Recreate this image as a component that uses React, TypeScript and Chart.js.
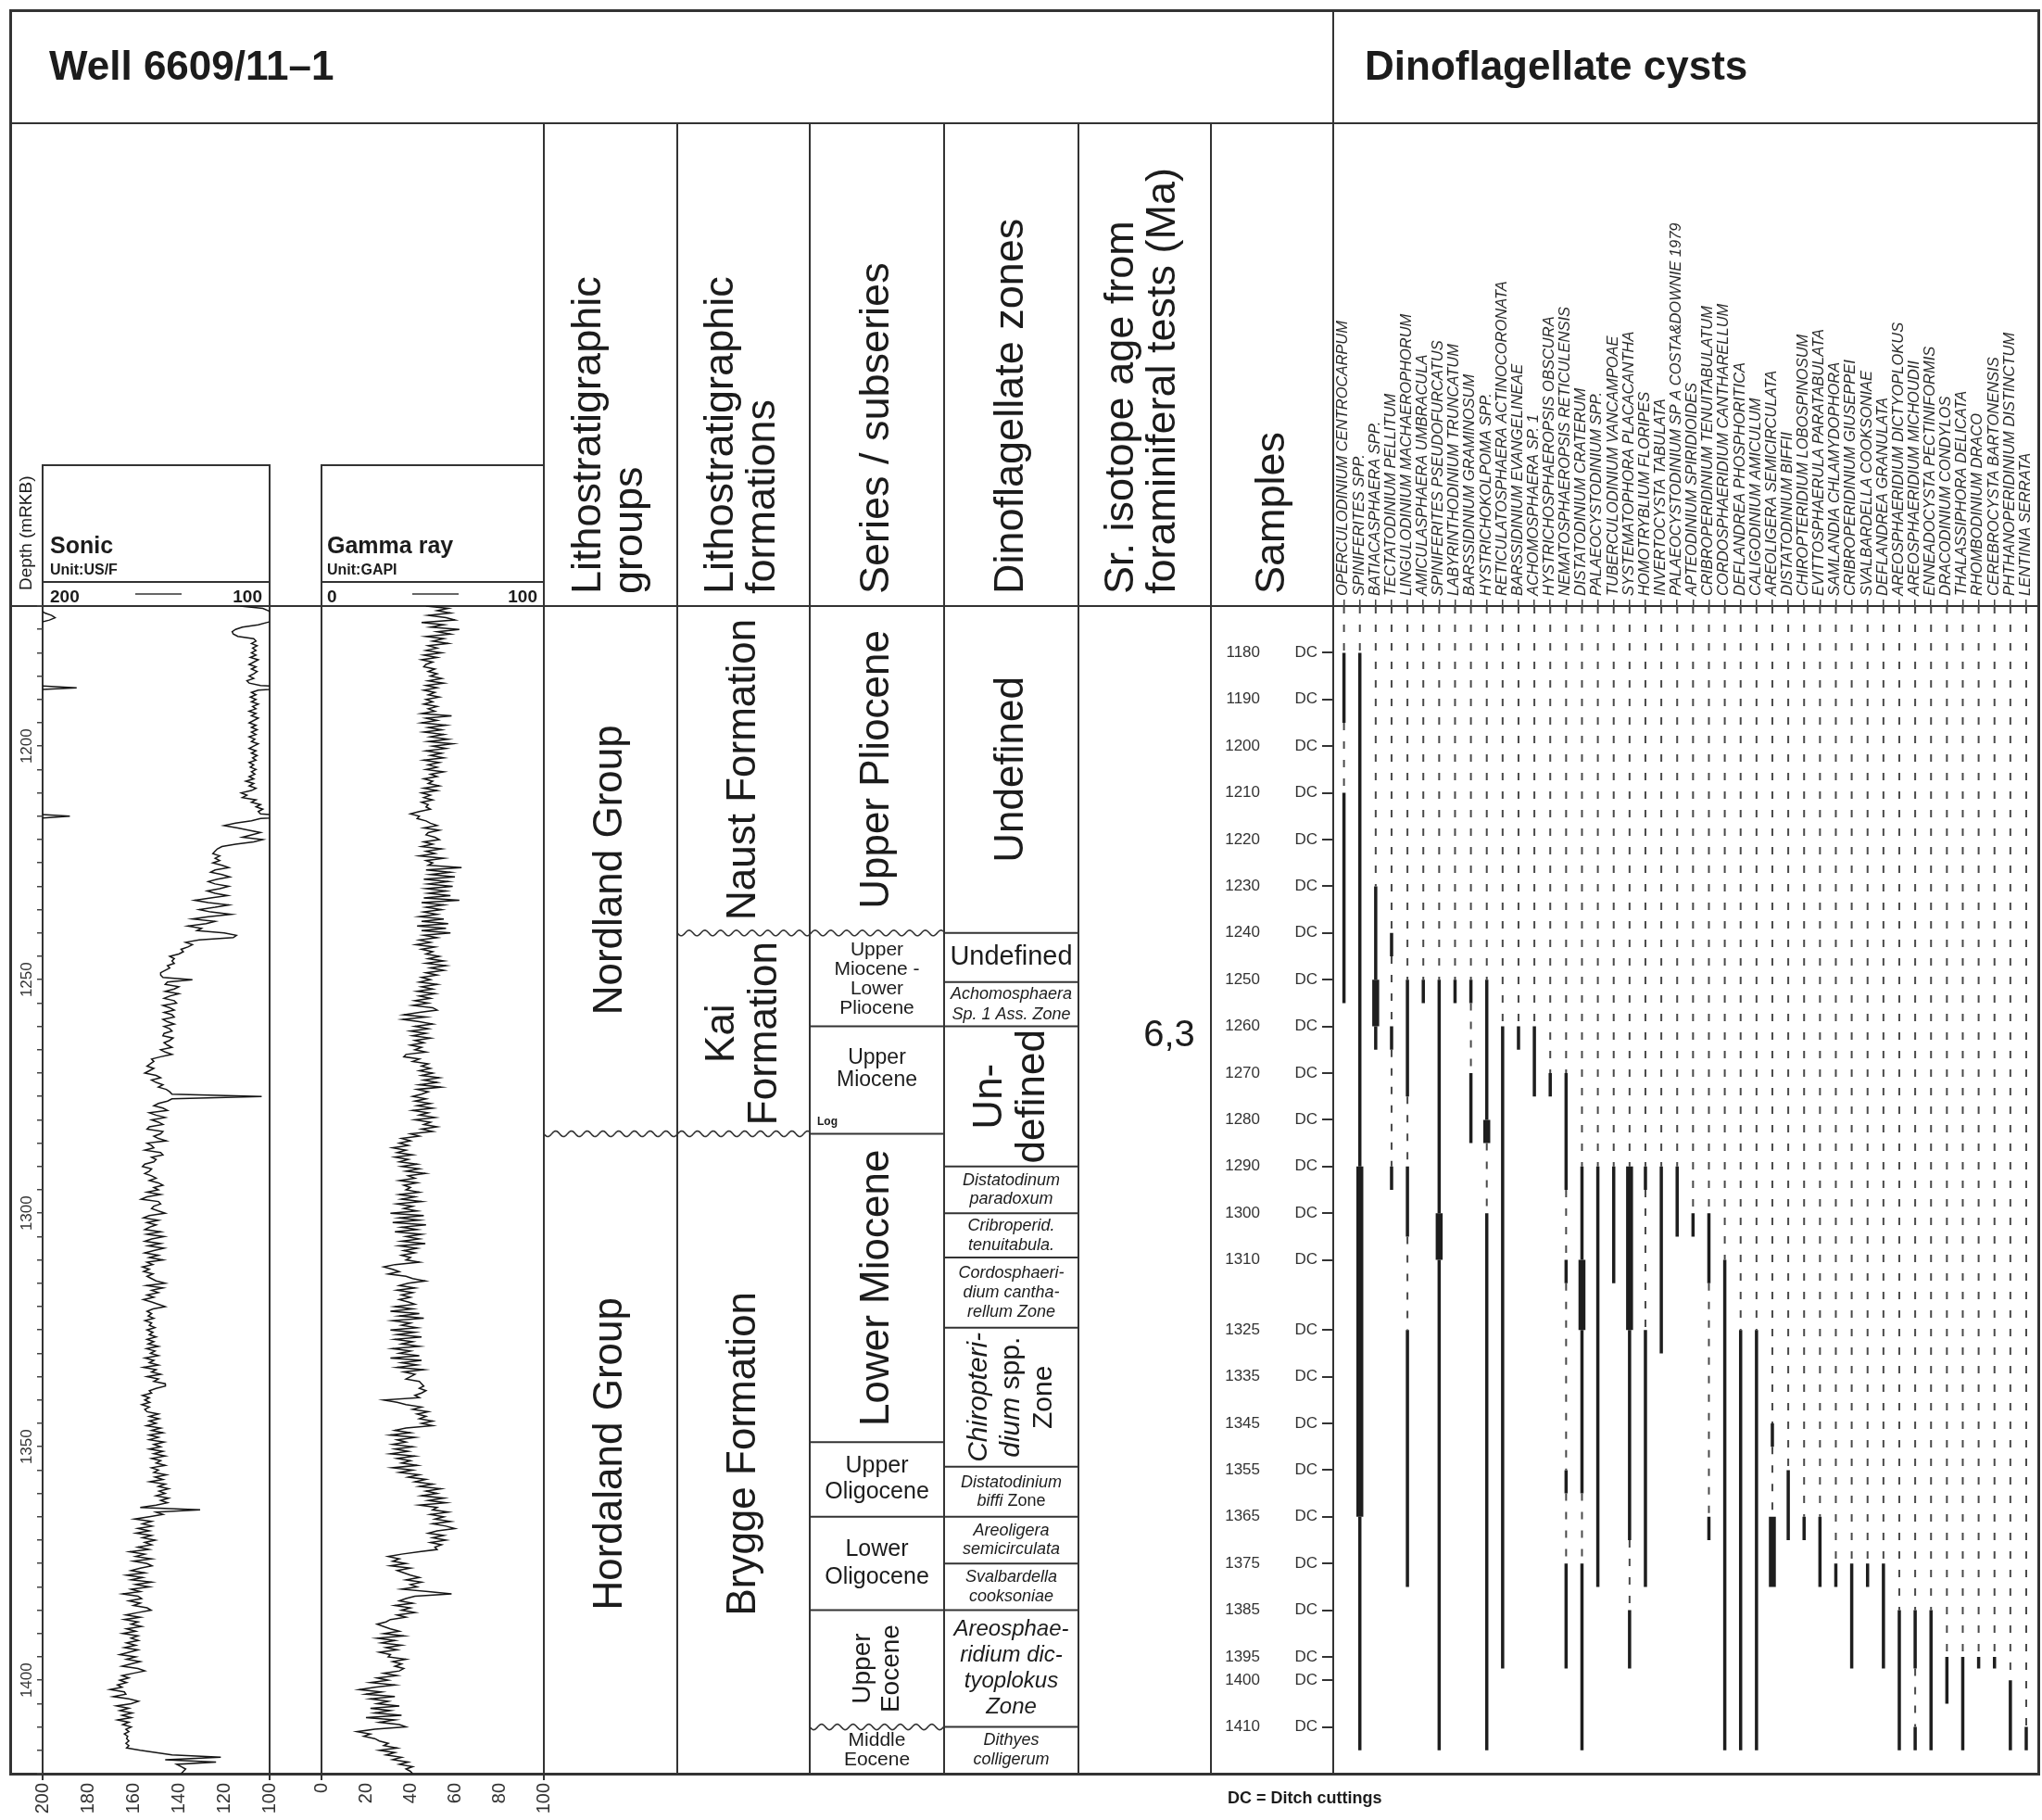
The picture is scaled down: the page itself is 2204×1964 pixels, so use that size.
import React, { useEffect, useRef } from 'react';
import { Chart, registerables } from 'chart.js';

Chart.register(...registerables);

const FONT = "'Liberation Sans', Arial, Helvetica, sans-serif";
Chart.defaults.font.family = FONT;
Chart.defaults.color = '#333';

// ---------------- DATA ----------------
const depthTop = 1170;
const depthBase = 1420;
const logStep = 0.5; // log samples every 0.5 m from depthTop

// Sonic (US/F), one row = 5 m
const sonicValues = [
  113, 103, 100.5, 99, 96, 94.5, 97, 101, 105, 112,
  115, 116.5, 116, 114, 107, 106, 108, 105.5, 107.5, 106,
  108, 106, 108.5, 105, 107, 109, 106, 108, 105.5, 107,
  109, 107, 110, 109, 104, 85, 105, 108, 106, 108.5,
  106, 108, 105, 107.5, 106, 109, 106, 108, 105, 107,
  109, 106, 108, 105.5, 108, 106, 109, 106.5, 108, 105,
  107, 109, 106, 108, 105.5, 107.5, 106, 109, 107, 108.5,
  106, 108, 106.5, 109, 107, 110.5, 107, 109, 106, 108,
  112.5, 110, 112, 106, 108, 104, 106, 103, 105, 104,
  88, 104, 108, 115, 120, 114, 109, 104, 108, 112,
  103, 107, 115, 121, 123, 124, 125, 122, 124, 122,
  125, 121, 118, 124, 126, 121, 117.5, 123, 127, 124,
  118, 122, 127.5, 124, 118.5, 126, 133, 127, 118, 124,
  131, 126, 117, 127, 134, 124, 128, 136, 130, 132,
  120, 114.6, 116, 131, 137, 134, 136, 139, 138, 140,
  144, 142, 143, 142, 145, 144, 146, 148, 148, 147,
  134, 145, 146, 140, 142, 146, 140, 144, 146.5, 142,
  141, 147, 144, 142, 146.5, 143, 142, 147, 145, 142,
  146.5, 144, 143, 146.5, 147, 142.5, 144, 146.5, 145, 143,
  148, 146, 143, 148, 152, 151, 152.5, 154, 151, 153,
  155, 150, 148, 152, 150, 147, 149, 145.5, 144, 143,
  103.5, 143, 145, 149, 151, 147, 145, 153, 150, 146,
  152, 149, 147, 153, 154, 147, 148, 151, 149, 145.5,
  154, 152, 151, 155, 148, 147, 152, 150, 151, 155,
  156, 152, 153, 155, 152, 150, 153, 149, 147, 151,
  149, 154, 148, 154, 156.6, 149, 148, 151, 152, 149,
  146, 153, 155.6, 149, 154, 150, 153, 155, 148, 154,
  146.5, 152, 155, 148, 153.5, 146.5, 151, 155, 149, 153,
  147, 154, 151.5, 156, 153, 155.5, 151.4, 154, 152, 150,
  146, 154.2, 147, 152, 149, 154, 151, 155.6, 152, 149,
  146, 151.4, 154, 152, 153.5, 151, 154.9, 152, 153, 150.5,
  154, 151.4, 153, 150, 154, 151, 153.5, 149, 154.2, 150.5,
  152.5, 149, 154.9, 151, 153, 149, 155.6, 150, 152, 148,
  154, 149, 151, 146, 145.9, 150, 153, 152, 156, 153,
  155, 152.8, 156.3, 153, 155, 154, 149, 153, 148.7, 153,
  150, 154.2, 148, 152, 147, 153, 149, 153, 146.5, 151,
  148, 153, 147, 151, 146, 152, 148, 150, 146, 152,
  149, 151, 145.5, 150.5, 147, 152.8, 146, 149, 144.5, 148.7,
  146, 150, 144.5, 148, 145, 150, 157, 130.6, 150, 147,
  153, 159.5, 152, 156, 151.8, 158, 153, 158.8, 152, 156,
  150.4, 155, 152, 158, 153.2, 161.6, 155, 159, 152, 160,
  154, 151.8, 157, 161, 155, 163, 156, 161, 152, 159,
  153, 161, 157, 164.7, 158, 156.4, 162, 157, 160, 154,
  152.2, 158, 163.3, 157, 164, 158, 161, 156.4, 163, 159,
  164.7, 158, 161, 157.8, 163, 159, 164, 158, 162, 166,
  159, 163, 157, 161, 165, 158, 155, 160, 165, 162,
  166, 163, 167, 165, 170.3, 164, 163.3, 168.9, 162, 157.8,
  161, 167.5, 162, 166, 160.6, 165, 161, 167, 162, 164.7,
  161, 163.3, 162, 164, 162.5, 163, 162, 163.3, 162, 163,
  157, 150, 143, 121.5, 146, 123.6, 141, 139, 137, 138,
  139,
];

// Gamma ray (GAPI), one row = 5 m
const gammaValues = [
  47, 57, 52, 58, 48, 56, 60, 45, 55, 49,
  62, 52, 58, 47, 55, 50, 57, 48, 52, 47,
  54, 46, 52, 45, 50, 47, 46, 51, 48, 52,
  49, 54, 48, 55, 47, 52, 46, 51, 48, 53,
  47, 50, 46, 52, 48, 51, 45, 58.5, 47, 52,
  45, 56, 48, 54, 46, 55, 49, 57, 48, 59,
  50, 56, 47, 54, 49, 55, 46, 53, 48, 52,
  47, 55, 49, 52, 46, 50, 48, 53, 46, 52,
  45, 49, 46, 50, 45, 48, 47, 49, 44, 40,
  44, 43, 47, 49, 52, 46, 53, 48, 47, 51,
  53, 46, 50, 45, 54, 47, 51, 44, 55, 47,
  50, 48, 63, 47, 58, 49, 60, 46, 57, 48,
  59, 47, 56, 48, 58, 46, 62, 45, 55, 47,
  54, 46, 52, 44, 55, 45, 57, 43, 56, 45,
  58, 46, 52, 44, 49, 42.5, 51, 45, 50, 47,
  53, 48, 55, 47, 56, 49, 55, 47, 52, 45,
  49, 44, 52, 45, 50, 43, 51, 44, 49, 42,
  48, 41, 50, 52, 44, 37, 47, 36.5, 44, 50,
  42, 48, 40, 47, 41, 49, 42, 46, 40, 45,
  42, 47, 38, 37, 44, 41, 48, 45, 49, 44,
  50, 45, 53, 46, 52, 44, 53.7, 43, 48, 45,
  41, 47, 42, 49, 43, 50, 41, 48, 44, 51,
  42, 49, 46, 52, 45, 50, 40, 44, 36, 40,
  35, 39, 32, 38, 34, 41, 33, 39, 35, 43,
  36, 44, 38, 46.7, 39, 42, 35, 43, 37, 40,
  38, 44, 35, 42, 36, 45, 34, 41, 37, 43,
  31, 46, 35, 44, 32, 47, 36, 43, 33, 45,
  38, 44, 36, 46.7, 35, 43, 37, 42, 36, 40,
  38, 44, 33, 28, 32, 35, 30, 38, 41, 46.7,
  39, 35, 42, 34, 41, 36, 40, 35, 39, 42,
  33, 41, 31, 44, 35, 46, 32, 40, 36, 43,
  31, 42, 34, 45, 33, 41, 36, 44, 32, 40,
  35, 44, 31, 45, 36, 43, 34, 46, 37, 42,
  40, 38, 44, 45, 46, 44, 47, 45, 42, 44,
  28, 34, 38, 45, 41, 48, 43, 47, 44, 50,
  45, 50, 38, 33, 40, 31, 42, 34, 38, 32,
  41, 33, 39, 31, 42, 34, 40, 36, 43, 32,
  41, 35, 44, 39, 47, 42, 50, 44, 53.7, 47,
  52, 45, 55, 48, 56, 44, 52, 50, 57, 49,
  55, 51, 58, 50, 56, 60, 52, 48, 55, 50,
  56, 49, 54, 51, 52, 44, 36, 30, 35, 32,
  38, 31, 40, 34, 37, 40, 44, 38, 45, 40,
  43, 36, 48, 58.5, 42, 38, 35, 41, 33, 40,
  36, 42, 34, 38, 31, 29, 25, 28, 31, 35,
  28, 37, 25, 33, 27, 36, 29, 34, 26, 31,
  30, 38, 32, 36, 33, 37, 35, 28, 34, 25,
  30, 22, 33, 24, 17, 27, 20, 33, 22, 30,
  25, 35, 22, 31, 24, 36, 20, 33, 26, 35,
  38, 24, 16, 22, 19, 24, 26, 30, 28, 34,
  26, 33, 29, 36, 32, 39, 35, 41, 38, 40,
  41,
];

const sonicTickValues = [200, 180, 160, 140, 120, 100];
const gammaTickValues = [0, 20, 40, 60, 80, 100];
const depthLabelStep = 50;

const sampleDepths = [1180, 1190, 1200, 1210, 1220, 1230, 1240, 1250, 1260, 1270, 1280, 1290, 1300, 1310, 1325, 1335, 1345, 1355, 1365, 1375, 1385, 1395, 1400, 1410];

const speciesNames = [
  'OPERCULODINIUM CENTROCARPUM', 'SPINIFERITES SPP.', 'BATIACASPHAERA SPP.', 'TECTATODINIUM PELLITUM',
  'LINGULODINIUM MACHAEROPHORUM', 'AMICULASPHAERA UMBRACULA', 'SPINIFERITES PSEUDOFURCATUS', 'LABYRINTHODINIUM TRUNCATUM',
  'BARSSIDINIUM GRAMINOSUM', 'HYSTRICHOKOLPOMA SPP.', 'RETICULATOSPHAERA ACTINOCORONATA', 'BARSSIDINIUM EVANGELINEAE',
  'ACHOMOSPHAERA SP. 1', 'HYSTRICHOSPHAEROPSIS OBSCURA', 'NEMATOSPHAEROPSIS RETICULENSIS', 'DISTATODINIUM CRATERUM',
  'PALAEOCYSTODINIUM SPP.', 'TUBERCULODINIUM VANCAMPOAE', 'SYSTEMATOPHORA PLACACANTHA', 'HOMOTRYBLIUM FLORIPES',
  'INVERTOCYSTA TABULATA', 'PALAEOCYSTODINIUM SP A COSTA&DOWNIE 1979', 'APTEODINIUM SPIRIDIOIDES', 'CRIBROPERIDINIUM TENUITABULATUM',
  'CORDOSPHAERIDIUM CANTHARELLUM', 'DEFLANDREA PHOSPHORITICA', 'CALIGODINIUM AMICULUM', 'AREOLIGERA SEMICIRCULATA',
  'DISTATODINIUM BIFFII', 'CHIROPTERIDIUM LOBOSPINOSUM', 'EVITTOSPHAERULA PARATABULATA', 'SAMLANDIA CHLAMYDOPHORA',
  'CRIBROPERIDINIUM GIUSEPPEI', 'SVALBARDELLA COOKSONIAE', 'DEFLANDREA GRANULATA', 'AREOSPHAERIDIUM DICTYOPLOKUS',
  'AREOSPHAERIDIUM MICHOUDII', 'ENNEADOCYSTA PECTINIFORMIS', 'DRACODINIUM CONDYLOS', 'THALASSIPHORA DELICATA',
  'RHOMBODINIUM DRACO', 'CEREBROCYSTA BARTONENSIS', 'PHTHANOPERIDINIUM DISTINCTUM', 'LENTINIA SERRATA',
];

// [species index, top depth, base depth]
const solidRanges = [
  [0, 1180, 1195], [0, 1210, 1255], [1, 1180, 1290], [1, 1365, 1415], [2, 1230, 1250], [2, 1260, 1265],
  [3, 1240, 1245], [3, 1260, 1265], [3, 1290, 1295], [4, 1250, 1275], [4, 1290, 1305], [4, 1325, 1380],
  [5, 1250, 1255], [6, 1250, 1300], [6, 1310, 1415], [7, 1250, 1255], [8, 1250, 1255], [8, 1270, 1285],
  [9, 1250, 1280], [9, 1300, 1415], [10, 1260, 1397.5], [11, 1260, 1265], [12, 1260, 1275], [13, 1270, 1275],
  [14, 1270, 1295], [14, 1310, 1315], [14, 1355, 1360], [14, 1375, 1397.5], [15, 1290, 1310], [15, 1325, 1360],
  [15, 1375, 1415], [16, 1290, 1380], [17, 1290, 1315], [18, 1325, 1370], [18, 1385, 1397.5], [19, 1290, 1295],
  [19, 1325, 1380], [20, 1290, 1330], [21, 1290, 1305], [22, 1300, 1305], [23, 1300, 1315], [23, 1365, 1370],
  [24, 1310, 1415], [25, 1325, 1415], [26, 1325, 1415], [27, 1345, 1350], [28, 1355, 1370], [29, 1365, 1370],
  [30, 1365, 1380], [31, 1375, 1380], [32, 1375, 1397.5], [33, 1375, 1380], [34, 1375, 1397.5], [35, 1385, 1415],
  [36, 1385, 1397.5], [36, 1410, 1415], [37, 1385, 1415], [38, 1395, 1405], [39, 1395, 1415], [40, 1395, 1397.5],
  [41, 1395, 1397.5], [42, 1400, 1415], [43, 1410, 1415],
];
const thickRanges = [
  [1, 1290, 1365], [2, 1250, 1260], [6, 1300, 1310], [9, 1280, 1285], [15, 1310, 1325], [18, 1290, 1325], [27, 1365, 1380],
];
const dashedRanges = [
  [0, 1170, 1180], [0, 1195, 1210], [1, 1170, 1180], [2, 1170, 1230], [3, 1170, 1240], [3, 1245, 1260], [3, 1265, 1290],
  [4, 1170, 1250], [4, 1275, 1290], [4, 1305, 1325], [5, 1170, 1250], [6, 1170, 1250], [7, 1170, 1250], [8, 1170, 1250],
  [8, 1255, 1270], [9, 1170, 1250], [9, 1285, 1300], [10, 1170, 1260], [11, 1170, 1260], [12, 1170, 1260], [13, 1170, 1270],
  [14, 1170, 1270], [14, 1295, 1310], [14, 1315, 1355], [14, 1360, 1375], [15, 1170, 1290], [15, 1360, 1375],
  [16, 1170, 1290], [17, 1170, 1290], [18, 1170, 1290], [18, 1370, 1385], [19, 1170, 1290], [19, 1295, 1325],
  [20, 1170, 1290], [21, 1170, 1290], [22, 1170, 1300], [23, 1170, 1300], [23, 1315, 1365], [24, 1170, 1310],
  [25, 1170, 1325], [26, 1170, 1325], [27, 1170, 1345], [27, 1350, 1365], [28, 1170, 1355], [29, 1170, 1365],
  [30, 1170, 1365], [31, 1170, 1375], [32, 1170, 1375], [33, 1170, 1375], [34, 1170, 1375], [35, 1170, 1385],
  [36, 1170, 1385], [36, 1397.5, 1410], [37, 1170, 1385], [38, 1170, 1395], [39, 1170, 1395], [40, 1170, 1395],
  [41, 1170, 1395], [42, 1170, 1400], [43, 1170, 1410],
];

const groupNames = ['Nordland Group', 'Hordaland Group'];
const groupTops = [1170, 1283];
const formationNames = ['Naust Formation', 'Kai|Formation', 'Brygge Formation'];
const formationTops = [1170, 1240, 1283];
const seriesNames = ['Upper Pliocene', 'Upper|Miocene -|Lower|Pliocene', 'Upper|Miocene', 'Lower Miocene', 'Upper|Oligocene', 'Lower|Oligocene', 'Upper|Eocene', 'Middle|Eocene'];
const seriesTops = [1170, 1240, 1260, 1283, 1349, 1365, 1385, 1410];
const dinoZoneNames = [
  'Undefined', 'Undefined', '*Achomosphaera*|*Sp. 1 Ass. Zone*', 'Un-|defined', '*Distatodinum*|*paradoxum*',
  '*Cribroperid.*|*tenuitabula.*', '*Cordosphaeri-*|*dium cantha-*|*rellum Zone*', '*Chiropteri-*|*dium* spp.|Zone',
  '*Distatodinium*|*biffi* Zone', '*Areoligera*|*semicirculata*', '*Svalbardella*|*cooksoniae*',
  '*Areosphae-*|*ridium dic-*|*tyoplokus*|*Zone*', '*Dithyes*|*colligerum*',
];
const dinoZoneTops = [1170, 1240, 1250.5, 1260, 1290, 1300, 1309.5, 1324.5, 1354.3, 1365, 1375, 1385, 1410];
const unconformityDepths = [1240, 1283, 1410];
const srAgeLabels = ['6,3'];
const srAgeDepths = [1262];

// ---------------- LAYOUT (page px) ----------------
const W = 2204;
const H = 1964;
const FRAME = { l: 11, r: 2200, t: 11, b: 1914 };
const TITLE_B = 133;
const DATA_T = 654;
const DATA_B = 1914;
const X = {
  sonicL: 46, sonicR: 291, gammaL: 347, gammaR: 587, groupsR: 731, formR: 874,
  seriesR: 1019, zonesR: 1164, srR: 1307, samplesR: 1439,
};
const BOX_T = 502;
const UNIT_LINE = 628;
const LINE = '#333';
const TEXT = '#1c1c1c';

type St = { rot?: boolean; size: number; lh?: number; dy?: number; dx?: number };
const groupStyle: St[] = [{ rot: true, size: 44 }, { rot: true, size: 44 }];
const formationStyle: St[] = [{ rot: true, size: 44 }, { rot: true, size: 44, lh: 46 }, { rot: true, size: 44 }];
const seriesStyle: St[] = [
  { rot: true, size: 44 }, { size: 21, lh: 21 }, { size: 23, lh: 24, dy: -12 }, { rot: true, size: 44 },
  { size: 25, lh: 28 }, { size: 25, lh: 30 }, { rot: true, size: 28, lh: 31 }, { size: 21, lh: 21 },
];
const zoneStyle: St[] = [
  { rot: true, size: 44 }, { size: 29 }, { size: 18, lh: 22 }, { rot: true, size: 44, lh: 46 },
  { size: 18, lh: 20 }, { size: 18, lh: 21 }, { size: 18, lh: 21 }, { rot: true, size: 30, lh: 35 },
  { size: 18, lh: 20 }, { size: 18, lh: 20 }, { size: 18, lh: 21 }, { size: 24, lh: 28 }, { size: 18, lh: 21 },
];

const font = (size: number, extra = '') => `${extra} ${size}px ${FONT}`.trim();

function drawRich(ctx: CanvasRenderingContext2D, line: string, x: number, y: number, size: number, align: string) {
  const parts: { t: string; it: boolean; w: number }[] = [];
  line.split('*').forEach((p, i) => { if (p) parts.push({ t: p, it: i % 2 === 1, w: 0 }); });
  let total = 0;
  parts.forEach((p) => { ctx.font = font(size, p.it ? 'italic' : ''); p.w = ctx.measureText(p.t).width; total += p.w; });
  let cx = align === 'center' ? x - total / 2 : x;
  ctx.textAlign = 'left';
  parts.forEach((p) => { ctx.font = font(size, p.it ? 'italic' : ''); ctx.fillText(p.t, cx, y); cx += p.w; });
}

function drawLabel(ctx: CanvasRenderingContext2D, label: string, x0: number, x1: number, y0: number, y1: number, st: St) {
  const lines = label.split('|');
  const n = lines.length;
  const lh = st.lh ?? st.size * 1.05;
  const cx = (x0 + x1) / 2 + (st.dx || 0);
  const cy = (y0 + y1) / 2 + (st.dy || 0);
  ctx.fillStyle = TEXT;
  ctx.textBaseline = 'middle';
  lines.forEach((ln, k) => {
    const off = (k - (n - 1) / 2) * lh;
    if (st.rot) {
      ctx.save();
      ctx.translate(cx + off, cy);
      ctx.rotate(-Math.PI / 2);
      drawRich(ctx, ln, 0, 0, st.size, 'center');
      ctx.restore();
    } else {
      drawRich(ctx, ln, cx, cy + off, st.size, 'center');
    }
  });
}

function rotText(ctx: CanvasRenderingContext2D, s: string, x: number, yBottom: number, f: string) {
  ctx.save();
  ctx.translate(x, yBottom);
  ctx.rotate(-Math.PI / 2);
  ctx.font = f;
  ctx.textAlign = 'left';
  ctx.textBaseline = 'middle';
  ctx.fillText(s, 0, 0);
  ctx.restore();
}

function seg(ctx: CanvasRenderingContext2D, x1: number, y1: number, x2: number, y2: number, w = 2) {
  ctx.lineWidth = w;
  ctx.beginPath();
  ctx.moveTo(x1, y1);
  ctx.lineTo(x2, y2);
  ctx.stroke();
}

function wavy(ctx: CanvasRenderingContext2D, x0: number, x1: number, y: number) {
  ctx.lineWidth = 1.6;
  ctx.beginPath();
  for (let x = x0; x <= x1; x += 1) {
    const yy = y + 3 * Math.sin(((x - x0) / 17) * 2 * Math.PI);
    if (x === x0) ctx.moveTo(x, yy); else ctx.lineTo(x, yy);
  }
  ctx.stroke();
}

const basesOf = (tops: number[]) => tops.map((t, i) => (i + 1 < tops.length ? tops[i + 1] : depthBase));

const bgPlugin = {
  id: 'bgTable',
  beforeDraw(chart: any) {
    const ctx: CanvasRenderingContext2D = chart.ctx;
    const ys = chart.scales.y;
    const Y = (d: number) => ys.getPixelForValue(d);
    ctx.save();
    ctx.fillStyle = '#fff';
    ctx.fillRect(0, 0, chart.width, chart.height);
    ctx.strokeStyle = LINE;

    ctx.lineWidth = 3;
    ctx.strokeRect(FRAME.l + 0.5, FRAME.t + 0.5, FRAME.r - FRAME.l, FRAME.b - FRAME.t);
    seg(ctx, FRAME.l, TITLE_B, FRAME.r, TITLE_B);
    seg(ctx, X.samplesR, FRAME.t, X.samplesR, FRAME.b);
    seg(ctx, FRAME.l, DATA_T, FRAME.r, DATA_T);
    [X.gammaR, X.groupsR, X.formR, X.seriesR, X.zonesR, X.srR].forEach((x) => seg(ctx, x, TITLE_B, x, FRAME.b));
    ctx.lineWidth = 2;
    ctx.strokeRect(X.sonicL, BOX_T, X.sonicR - X.sonicL, FRAME.b - BOX_T);
    ctx.strokeRect(X.gammaL, BOX_T, X.gammaR - X.gammaL, FRAME.b - BOX_T);
    seg(ctx, X.sonicL, UNIT_LINE, X.sonicR, UNIT_LINE);
    seg(ctx, X.gammaL, UNIT_LINE, X.gammaR, UNIT_LINE);
    [X.sonicL, X.sonicR, X.gammaL, X.gammaR].forEach((x) => seg(ctx, x, FRAME.b, x, FRAME.b + 7, 2));

    ctx.fillStyle = TEXT;
    ctx.textBaseline = 'middle';
    ctx.textAlign = 'left';
    ctx.font = font(44, 'bold');
    ctx.fillText('Well 6609/11\u20131', 53, 74);
    ctx.fillText('Dinoflagellate cysts', 1473, 74);

    rotText(ctx, 'Depth (mRKB)', 29, 637, font(19));
    ctx.textBaseline = 'alphabetic';
    ctx.font = font(25, 'bold');
    ctx.fillText('Sonic', 54, 597);
    ctx.fillText('Gamma ray', 353, 597);
    ctx.font = font(16, 'bold');
    ctx.fillText('Unit:US/F', 54, 620);
    ctx.fillText('Unit:GAPI', 353, 620);
    ctx.font = font(19, 'bold');
    ctx.fillText('200', 54, 650);
    ctx.fillText('0', 353, 650);
    ctx.textAlign = 'right';
    ctx.fillText('100', 283, 650);
    ctx.fillText('100', 580, 650);
    seg(ctx, 146, 641, 196, 641, 1.5);
    seg(ctx, 445, 641, 495, 641, 1.5);

    const HF = font(45);
    rotText(ctx, 'Lithostratigraphic', 636, 641, HF);
    rotText(ctx, 'groups', 681, 641, HF);
    rotText(ctx, 'Lithostratigraphic', 779, 641, HF);
    rotText(ctx, 'formations', 824, 641, HF);
    rotText(ctx, 'Series / subseries', 947, 641, HF);
    rotText(ctx, 'Dinoflagellate zones', 1092, 641, HF);
    rotText(ctx, 'Sr. isotope age from', 1211, 641, HF);
    rotText(ctx, 'foraminiferal tests (Ma)', 1256, 641, HF);
    rotText(ctx, 'Samples', 1374, 641, HF);

    ctx.strokeStyle = LINE;
    const gB = basesOf(groupTops);
    groupNames.forEach((n, i) => drawLabel(ctx, n, X.gammaR, X.groupsR, Y(groupTops[i]), Y(gB[i]), groupStyle[i]));
    const fB = basesOf(formationTops);
    formationNames.forEach((n, i) => drawLabel(ctx, n, X.groupsR, X.formR, Y(formationTops[i]), Y(fB[i]), formationStyle[i]));
    const sB = basesOf(seriesTops);
    seriesNames.forEach((n, i) => {
      drawLabel(ctx, n, X.formR, X.seriesR, Y(seriesTops[i]), Y(sB[i]), seriesStyle[i]);
      if (i > 0 && !unconformityDepths.includes(seriesTops[i])) seg(ctx, X.formR, Y(seriesTops[i]), X.seriesR, Y(seriesTops[i]));
    });
    seg(ctx, X.formR, Y(1283), X.seriesR, Y(1283));
    const zB = basesOf(dinoZoneTops);
    dinoZoneNames.forEach((n, i) => {
      drawLabel(ctx, n, X.seriesR, X.zonesR, Y(dinoZoneTops[i]), Y(zB[i]), zoneStyle[i]);
      if (i > 0) seg(ctx, X.seriesR, Y(dinoZoneTops[i]), X.zonesR, Y(dinoZoneTops[i]));
    });
    wavy(ctx, X.groupsR, X.seriesR, Y(unconformityDepths[0]));
    wavy(ctx, X.gammaR, X.formR, Y(unconformityDepths[1]));
    wavy(ctx, X.formR, X.seriesR, Y(unconformityDepths[2]));
    ctx.fillStyle = TEXT;
    ctx.textAlign = 'left';
    ctx.textBaseline = 'alphabetic';
    ctx.font = font(12, 'bold');
    ctx.fillText('Log', X.formR + 8, Y(1283) - 10);

    ctx.font = font(40);
    ctx.textAlign = 'center';
    ctx.textBaseline = 'middle';
    srAgeLabels.forEach((s, i) => ctx.fillText(s, 1262, Y(srAgeDepths[i])));

    ctx.font = font(18, 'bold');
    ctx.textAlign = 'left';
    ctx.textBaseline = 'middle';
    ctx.fillText('DC = Ditch cuttings', 1325, 1941);
    ctx.restore();
  },
};

const basePlugins = { legend: { display: false }, tooltip: { enabled: false } };

function bgConfig(): any {
  return {
    type: 'scatter',
    data: { datasets: [] },
    options: {
      responsive: false, animation: false, events: [],
      layout: { padding: { top: DATA_T, bottom: H - DATA_B, left: 0, right: 0 } },
      plugins: basePlugins,
      scales: {
        x: { type: 'linear', display: false, min: 0, max: 1 },
        y: { type: 'linear', display: false, min: depthTop, max: depthBase, reverse: true },
      },
    },
    plugins: [bgPlugin],
  };
}

const logPoints = (vals: number[]) => vals.map((v, i) => ({ x: v, y: depthTop + i * logStep }));

function wrapRuns(vals: number[], limit: number, shift: number) {
  const runs: { x: number; y: number }[][] = [];
  let run: { x: number; y: number }[] | null = null;
  vals.forEach((v, i) => {
    const need = v < limit || (i > 0 && vals[i - 1] < limit) || (i + 1 < vals.length && vals[i + 1] < limit);
    if (need) {
      if (!run) { run = []; runs.push(run); }
      run.push({ x: v + shift, y: depthTop + i * logStep });
    } else run = null;
  });
  return runs;
}

const lineDs = (data: any[]) => ({
  data, showLine: true, pointRadius: 0, borderColor: '#151515', borderWidth: 1.5, tension: 0,
});

const noPad = (s: any) => { s.paddingLeft = 0; s.paddingRight = 0; s.paddingTop = 0; s.paddingBottom = 0; };

function logConfig(vals: number[], min: number, max: number, reverse: boolean, tickVals: number[], showDepth: boolean, extra: any[]): any {
  return {
    type: 'scatter',
    data: { datasets: [lineDs(logPoints(vals)), ...extra.map((r) => lineDs(r))] },
    options: {
      responsive: false, animation: false, events: [],
      layout: { padding: { top: 2, right: 10, left: showDepth ? 0 : 10, bottom: 0 } },
      plugins: basePlugins,
      scales: {
        x: {
          type: 'linear', position: 'bottom', min, max, reverse,
          afterBuildTicks: (s: any) => { s.ticks = tickVals.map((v) => ({ value: v })); },
          ticks: { autoSkip: false, minRotation: 90, maxRotation: 90, padding: 10, font: { size: 20 }, color: '#333' },
          grid: { display: false, drawTicks: false },
          border: { display: false },
          afterFit: (s: any) => { s.height = 50; noPad(s); },
        },
        y: {
          type: 'linear', position: 'left', min: depthTop, max: depthBase, reverse: true, display: showDepth,
          ticks: {
            stepSize: 5, autoSkip: false, minRotation: 90, maxRotation: 90, crossAlign: 'center', padding: -8,
            callback: (v: number) => (v % depthLabelStep === 0 ? String(v) : ''), font: { size: 17 }, color: '#333',
          },
          grid: { drawOnChartArea: false, tickLength: 6, color: '#444', lineWidth: 1.5 },
          border: { display: false },
          afterFit: (s: any) => { s.width = showDepth ? 35 : 0; noPad(s); },
        },
      },
    },
  };
}

function rangeConfig(): any {
  const ds: any[] = [];
  const add = (arr: number[][], w: number, dash: number[], color: string) =>
    arr.forEach(([i, t, b]) => ds.push({
      data: [{ x: i, y: t }, { x: i, y: b }], showLine: true, pointRadius: 0, borderColor: color,
      borderWidth: w, borderDash: dash, borderCapStyle: 'butt', xAxisID: 'x', yAxisID: 'yDC',
    }));
  add(dashedRanges, 2, [8, 12], '#4a4a4a');
  add(solidRanges, 3.5, [], '#1e1e1e');
  add(thickRanges, 7.5, [], '#1e1e1e');
  const sampleTicks = (s: any) => { s.ticks = sampleDepths.map((v) => ({ value: v })); };
  return {
    type: 'scatter',
    data: { datasets: ds },
    options: {
      responsive: false, animation: false, events: [],
      layout: { padding: { top: 0, right: 4, left: 0, bottom: H - DATA_B } },
      plugins: basePlugins,
      scales: {
        x: {
          type: 'linear', position: 'top', min: -0.677, max: 43.76,
          afterBuildTicks: (s: any) => { s.ticks = speciesNames.map((_, i) => ({ value: i })); },
          ticks: {
            autoSkip: false, minRotation: 90, maxRotation: 90, padding: 4, labelOffset: 19,
            callback: (v: number) => speciesNames[v], font: { size: 16.5, style: 'italic' }, color: '#2a2a2a',
          },
          grid: { drawOnChartArea: false, tickLength: 7, color: '#444', lineWidth: 1.5 },
          border: { display: false },
          afterFit: (s: any) => { s.height = DATA_T - TITLE_B; noPad(s); },
        },
        yDC: {
          type: 'linear', position: 'left', min: depthTop, max: depthBase, reverse: true, weight: 0,
          afterBuildTicks: sampleTicks,
          ticks: { autoSkip: false, padding: 5, callback: () => 'DC', font: { size: 17 }, color: '#333' },
          grid: { drawOnChartArea: false, tickLength: 12, color: '#333', lineWidth: 2 },
          border: { display: false },
          afterFit: (s: any) => { s.width = 45; noPad(s); },
        },
        yNum: {
          type: 'linear', position: 'left', min: depthTop, max: depthBase, reverse: true, weight: 1,
          afterBuildTicks: sampleTicks,
          ticks: { autoSkip: false, padding: 34, callback: (v: number) => String(v), font: { size: 17 }, color: '#333' },
          grid: { display: false, drawTicks: false },
          border: { display: false },
          afterFit: (s: any) => { s.width = 87; noPad(s); },
        },
      },
    },
  };
}

export default function App() {
  const bgRef = useRef<HTMLCanvasElement>(null);
  const sonicRef = useRef<HTMLCanvasElement>(null);
  const gammaRef = useRef<HTMLCanvasElement>(null);
  const rangeRef = useRef<HTMLCanvasElement>(null);

  useEffect(() => {
    const charts = [
      new Chart(bgRef.current as HTMLCanvasElement, bgConfig()),
      new Chart(sonicRef.current as HTMLCanvasElement,
        logConfig(sonicValues, 100, 200, true, sonicTickValues, true, wrapRuns(sonicValues, 100, 100))),
      new Chart(gammaRef.current as HTMLCanvasElement,
        logConfig(gammaValues, 0, 100, false, gammaTickValues, false, [])),
      new Chart(rangeRef.current as HTMLCanvasElement, rangeConfig()),
    ];
    return () => charts.forEach((c) => c.destroy());
  }, []);

  const abs = (l: number, t: number): React.CSSProperties => ({ position: 'absolute', left: l, top: t });
  return (
    <div style={{ position: 'absolute', left: 0, top: 0, width: W, height: H, background: '#fff', overflow: 'hidden' }}>
      <canvas ref={bgRef} width={W} height={H} style={abs(0, 0)} />
      <canvas ref={sonicRef} width={X.sonicR + 10 - FRAME.l} height={H - DATA_T + 2} style={abs(FRAME.l, DATA_T - 2)} />
      <canvas ref={gammaRef} width={X.gammaR - X.gammaL + 20} height={H - DATA_T + 2} style={abs(X.gammaL - 10, DATA_T - 2)} />
      <canvas ref={rangeRef} width={W - X.srR} height={H - TITLE_B} style={abs(X.srR, TITLE_B)} />
    </div>
  );
}
